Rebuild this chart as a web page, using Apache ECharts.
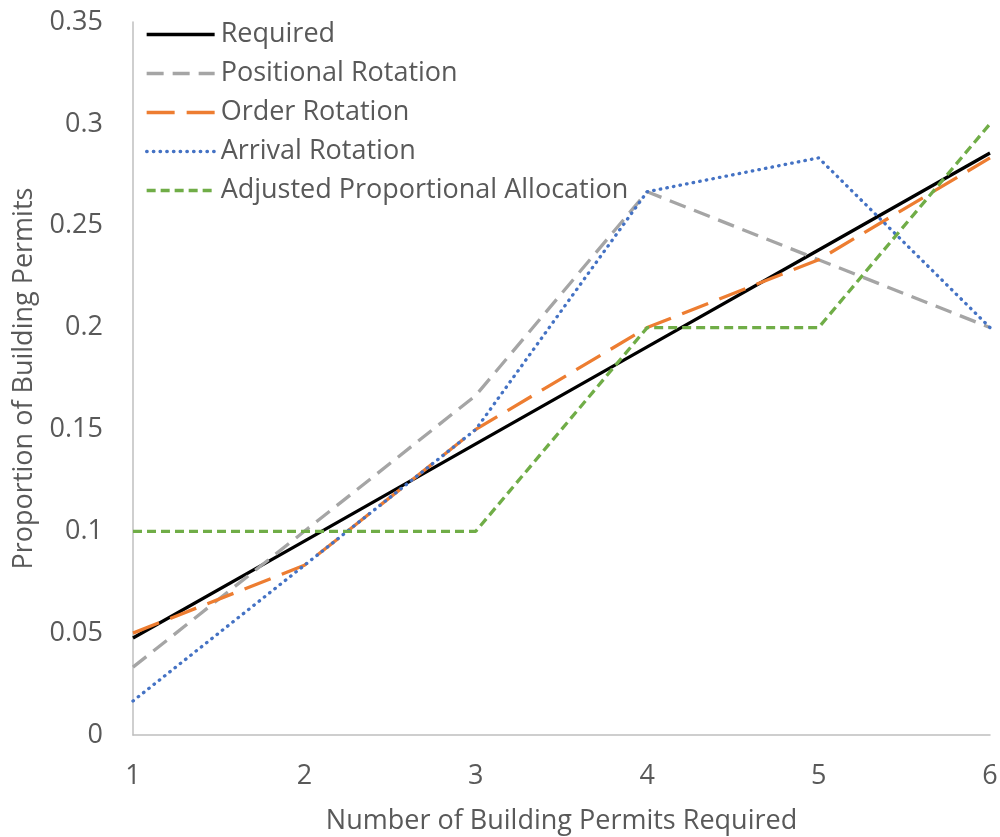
<!DOCTYPE html>
<html><head><meta charset="utf-8">
<script src="https://cdn.jsdelivr.net/npm/echarts@6/dist/echarts.min.js"></script>
<style>html,body{margin:0;padding:0;background:#fff}#c{width:1000px;height:837px}</style>
</head><body><div id="c"></div>
<script>
const xValues = [1, 2, 3, 4, 5, 6];
const required = [0.0476, 0.0952, 0.1429, 0.1905, 0.2381, 0.2857];
const positionalRotation = [0.0333, 0.1, 0.1667, 0.2667, 0.2333, 0.2];
const orderRotation = [0.05, 0.0833, 0.15, 0.2, 0.2333, 0.2833];
const arrivalRotation = [0.0167, 0.0833, 0.15, 0.2667, 0.2833, 0.2];
const adjustedProportional = [0.1, 0.1, 0.1, 0.2, 0.2, 0.3];
const seriesNames = ['Required', 'Positional Rotation', 'Order Rotation', 'Arrival Rotation', 'Adjusted Proportional Allocation'];

const FONT = '"Open Sans", "Noto Sans", sans-serif';
const TXT = '#595959';
const FS = 27;
const pair = arr => xValues.map((x, i) => [x, arr[i]]);
const styles = [
  {color: '#000000', type: 'solid', width: 3.3},
  {color: '#A5A5A5', type: [17, 9], width: 3.3},
  {color: '#ED7D31', type: [28, 12], width: 3.3},
  {color: '#4472C4', type: [0.5, 6.2], width: 3.3, cap: 'round'},
  {color: '#70AD47', type: [9, 5], width: 3.3}
];
const datas = [required, positionalRotation, orderRotation, arrivalRotation, adjustedProportional];

const chart = echarts.init(document.getElementById('c'), null, {renderer: 'canvas'});
chart.setOption({
  animation: false,
  textStyle: {fontFamily: FONT},
  grid: {left: 133, right: 10, top: 22, bottom: 102, containLabel: false, outerBoundsMode: 'none'},
  legend: {
    orient: 'vertical', left: 145, top: 21, padding: 0,
    itemWidth: 68, itemHeight: 14, itemGap: 12,
    itemStyle: {opacity: 0},
    textStyle: {fontFamily: FONT, fontSize: FS, color: TXT, lineHeight: 24, padding: [0, 0, 0, 1]},
    data: seriesNames.map((n, i) => ({name: n, itemStyle: {opacity: 0}, lineStyle: Object.assign({}, styles[i])}))
  },
  xAxis: {
    type: 'value', min: 1, max: 6, interval: 1,
    name: 'Number of Building Permits Required', nameLocation: 'middle', nameGap: 73,
    nameTextStyle: {fontFamily: FONT, fontSize: FS, color: TXT},
    axisLine: {lineStyle: {color: '#BFBFBF', width: 1.5}},
    axisTick: {show: false},
    splitLine: {show: false},
    axisLabel: {fontFamily: FONT, fontSize: FS, color: TXT, margin: 28}
  },
  yAxis: {
    type: 'value', min: 0, max: 0.35, interval: 0.05,
    name: 'Proportion of Building Permits', nameLocation: 'middle', nameGap: 95, nameRotate: 90,
    nameTextStyle: {fontFamily: FONT, fontSize: FS, color: TXT},
    axisLine: {show: true, lineStyle: {color: '#BFBFBF', width: 1.5}},
    axisTick: {show: false},
    splitLine: {show: false},
    axisLabel: {fontFamily: FONT, fontSize: FS, color: TXT, margin: 30}
  },
  series: seriesNames.map((n, i) => ({
    name: n, type: 'line', data: pair(datas[i]),
    symbol: 'none', showSymbol: false,
    lineStyle: styles[i], itemStyle: {color: styles[i].color}
  }))
});
</script></body></html>
